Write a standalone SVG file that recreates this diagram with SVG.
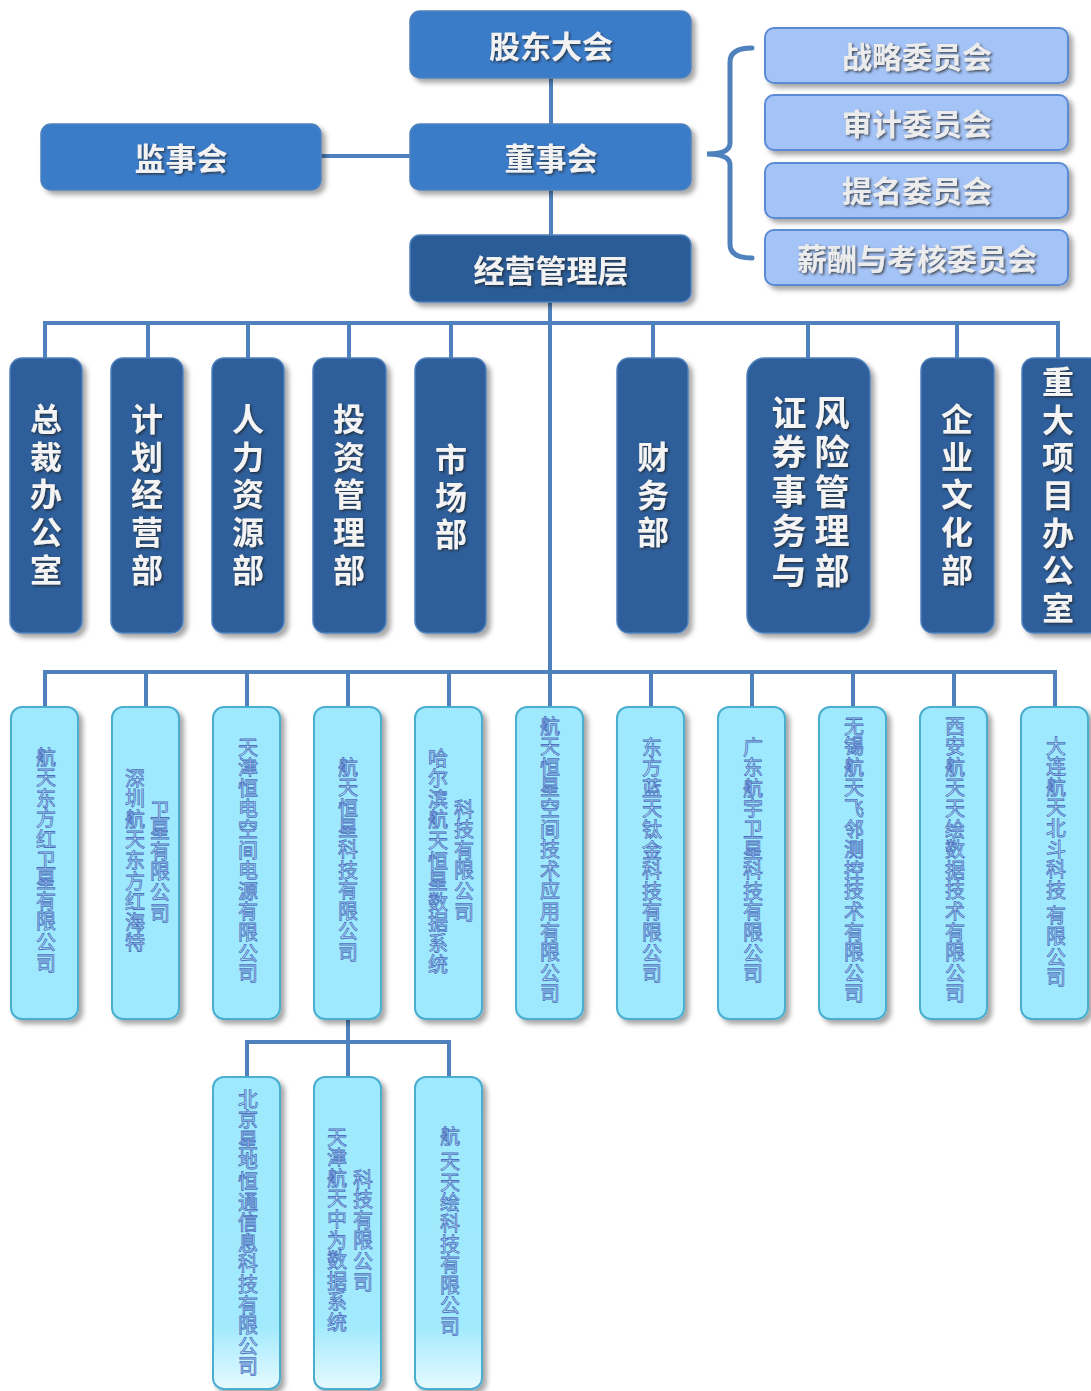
<svg xmlns="http://www.w3.org/2000/svg" width="1091" height="1391" viewBox="0 0 1091 1391">
<defs>
<filter id="sh" x="-20%" y="-20%" width="150%" height="150%">
<feDropShadow dx="4" dy="4" stdDeviation="2.5" flood-color="#000" flood-opacity="0.35"/>
</filter>
<filter id="ts" x="-20%" y="-20%" width="150%" height="150%">
<feDropShadow dx="1.5" dy="1.5" stdDeviation="0.8" flood-color="#222" flood-opacity="0.75"/>
</filter>
<linearGradient id="gb" x1="0" y1="0" x2="0" y2="1">
<stop offset="0" stop-color="#9ee9fd"/>
<stop offset="0.8" stop-color="#a2eafd"/>
<stop offset="1" stop-color="#e6faff"/>
</linearGradient>
</defs>
<style>
.top{fill:#3b7cc9;stroke:#4f81bd;stroke-width:1.5;filter:url(#sh)}
.mgr{fill:#2c5b97;stroke:#4f81bd;stroke-width:1.5;filter:url(#sh)}
.com{fill:#a4c3f6;stroke:#5b8bd6;stroke-width:2;filter:url(#sh)}
.dep{fill:#2d5e9b;stroke:#4f81bd;stroke-width:1.5;filter:url(#sh)}
.sub{fill:#9ee9fd;stroke:#4aaecf;stroke-width:2;filter:url(#sh)}
.subg{fill:url(#gb);stroke:#4aaecf;stroke-width:2;filter:url(#sh)}
.t1{font-family:"Noto Sans CJK SC","Noto Sans",sans-serif;font-size:31px;font-weight:600;fill:#f2f2f2;text-anchor:middle;dominant-baseline:central;filter:url(#ts)}
.t2{font-family:"Noto Sans CJK SC","Noto Sans",sans-serif;font-size:30px;font-weight:600;fill:#ececec;text-anchor:middle;dominant-baseline:central;filter:url(#ts)}
.tv{font-family:"Noto Sans CJK SC","Noto Sans",sans-serif;font-size:32px;font-weight:bold;fill:#f4f4f4;writing-mode:vertical-rl;letter-spacing:5.6px;filter:url(#ts)}
.tvb{font-family:"Noto Sans CJK SC","Noto Sans",sans-serif;font-size:35px;font-weight:bold;fill:#f4f4f4;writing-mode:vertical-rl;letter-spacing:4.5px;filter:url(#ts)}
.ts{font-family:"Noto Sans CJK SC","Noto Sans",sans-serif;font-size:20px;fill:#b9effe;stroke:#4d6fc0;stroke-width:0.8;writing-mode:vertical-rl;letter-spacing:0.6px}
.ln{stroke:#4f81bd;stroke-width:4;fill:none}
</style>
<g id="connectors">
<line class="ln" x1="551" y1="78" x2="551" y2="124"/>
<line class="ln" x1="321" y1="156" x2="411" y2="156"/>
<line class="ln" x1="551" y1="190" x2="551" y2="236"/>
<line class="ln" x1="550" y1="302" x2="550" y2="708"/>
<polyline class="ln" points="45,359 45,323 1058,323 1058,359"/>
<line class="ln" x1="148" y1="323" x2="148" y2="359"/>
<line class="ln" x1="248" y1="323" x2="248" y2="359"/>
<line class="ln" x1="349" y1="323" x2="349" y2="359"/>
<line class="ln" x1="451" y1="323" x2="451" y2="359"/>
<line class="ln" x1="653" y1="323" x2="653" y2="359"/>
<line class="ln" x1="808" y1="323" x2="808" y2="359"/>
<line class="ln" x1="957" y1="323" x2="957" y2="359"/>
<polyline class="ln" points="45,708 45,672 1055,672 1055,708"/>
<line class="ln" x1="146" y1="672" x2="146" y2="708"/>
<line class="ln" x1="247" y1="672" x2="247" y2="708"/>
<line class="ln" x1="348" y1="672" x2="348" y2="708"/>
<line class="ln" x1="449" y1="672" x2="449" y2="708"/>
<line class="ln" x1="651" y1="672" x2="651" y2="708"/>
<line class="ln" x1="752" y1="672" x2="752" y2="708"/>
<line class="ln" x1="853" y1="672" x2="853" y2="708"/>
<line class="ln" x1="954" y1="672" x2="954" y2="708"/>
<line class="ln" x1="348" y1="1019" x2="348" y2="1078"/>
<polyline class="ln" points="247,1078 247,1042 449,1042 449,1078"/>
<path d="M752,48 Q730,48 730,62 L730,143 Q730,154 707,154 Q730,154 730,165 L730,244 Q730,258 752,258" fill="none" stroke="#4f81bd" stroke-width="5" stroke-linecap="round"/>
</g>
<g id="n-gddh"><rect class="top" x="410" y="11" width="281" height="67" rx="10"/><text class="t1" x="551" y="44">股东大会</text></g>
<g id="n-jsh"><rect class="top" x="41" y="124" width="280" height="66" rx="10"/><text class="t1" x="181" y="156">监事会</text></g>
<g id="n-dsh"><rect class="top" x="410" y="124" width="281" height="66" rx="10"/><text class="t1" x="551" y="156">董事会</text></g>
<g id="n-jyglc"><rect class="mgr" x="410" y="235" width="281" height="67" rx="10"/><text class="t1" x="551" y="268">经营管理层</text></g>
<g id="n-zlwyh"><rect class="com" x="765" y="28" width="303" height="55" rx="9"/><text class="t2" x="917" y="55">战略委员会</text></g>
<g id="n-sjwyh"><rect class="com" x="765" y="95" width="303" height="55" rx="9"/><text class="t2" x="917" y="122">审计委员会</text></g>
<g id="n-tmwyh"><rect class="com" x="765" y="163" width="303" height="55" rx="9"/><text class="t2" x="917" y="189">提名委员会</text></g>
<g id="n-xcwyh"><rect class="com" x="765" y="230" width="303" height="55" rx="9"/><text class="t2" x="917" y="257">薪酬与考核委员会</text></g>

<g id="d1"><rect class="dep" x="10" y="358" width="72" height="275" rx="12"/><text class="tv" x="46" y="403">总裁办公室</text></g>
<g id="d2"><rect class="dep" x="111" y="358" width="72" height="275" rx="12"/><text class="tv" x="147" y="403">计划经营部</text></g>
<g id="d3"><rect class="dep" x="212" y="358" width="72" height="275" rx="12"/><text class="tv" x="248" y="403">人力资源部</text></g>
<g id="d4"><rect class="dep" x="313" y="358" width="73" height="275" rx="12"/><text class="tv" x="349" y="403">投资管理部</text></g>
<g id="d5"><rect class="dep" x="415" y="358" width="71" height="275" rx="12"/><text class="tv" x="451" y="443">市场部</text></g>
<g id="d6"><rect class="dep" x="617" y="358" width="71" height="275" rx="12"/><text class="tv" x="653" y="441">财务部</text></g>
<g id="d7"><rect class="dep" x="747" y="358" width="123" height="275" rx="18"/><text class="tvb" x="789" y="395">证券事务与</text><text class="tvb" x="832" y="395">风险管理部</text></g>
<g id="d8"><rect class="dep" x="921" y="358" width="73" height="275" rx="12"/><text class="tv" x="957" y="403">企业文化部</text></g>
<g id="d9"><rect class="dep" x="1022" y="358" width="80" height="275" rx="12"/><text class="tv" x="1058" y="366">重大项目办公室</text></g>

<g id="s1"><rect class="sub" x="11" y="707" width="67" height="312" rx="11"/><text class="ts" x="46" y="747">航天东方红卫星有限公司</text></g>
<g id="s2"><rect class="sub" x="112" y="707" width="67" height="312" rx="11"/><text class="ts" x="135" y="768">深圳航天东方红海特</text><text class="ts" x="160" y="800">卫星有限公司</text></g>
<g id="s3"><rect class="sub" x="213" y="707" width="67" height="312" rx="11"/><text class="ts" x="248" y="737">天津恒电空间电源有限公司</text></g>
<g id="s4"><rect class="sub" x="314" y="707" width="67" height="312" rx="11"/><text class="ts" x="348" y="757">航天恒星科技有限公司</text></g>
<g id="s5"><rect class="sub" x="415" y="707" width="67" height="312" rx="11"/><text class="ts" x="438" y="748">哈尔滨航天恒星数据系统</text><text class="ts" x="464" y="799">科技有限公司</text></g>
<g id="s6"><rect class="sub" x="516" y="707" width="67" height="312" rx="11"/><text class="ts" x="550" y="716">航天恒星空间技术应用有限公司</text></g>
<g id="s7"><rect class="sub" x="617" y="707" width="67" height="312" rx="11"/><text class="ts" x="652" y="737">东方蓝天钛金科技有限公司</text></g>
<g id="s8"><rect class="sub" x="718" y="707" width="67" height="312" rx="11"/><text class="ts" x="753" y="737">广东航宇卫星科技有限公司</text></g>
<g id="s9"><rect class="sub" x="819" y="707" width="67" height="312" rx="11"/><text class="ts" x="854" y="716">无锡航天飞邻测控技术有限公司</text></g>
<g id="s10"><rect class="sub" x="920" y="707" width="67" height="312" rx="11"/><text class="ts" x="955" y="716">西安航天天绘数据技术有限公司</text></g>
<g id="s11"><rect class="sub" x="1021" y="707" width="67" height="312" rx="11"/><text class="ts" x="1056" y="736">大连航天北斗科技 有限公司</text></g>

<g id="s12"><rect class="subg" x="213" y="1077" width="67" height="312" rx="11"/><text class="ts" x="248" y="1089">北京星地恒通信息科技有限公司</text></g>
<g id="s13"><rect class="subg" x="314" y="1077" width="67" height="312" rx="11"/><text class="ts" x="337" y="1127">天津航天中为数据系统</text><text class="ts" x="363" y="1169">科技有限公司</text></g>
<g id="s14"><rect class="subg" x="415" y="1077" width="67" height="312" rx="11"/><text class="ts" x="450" y="1126">航 天天绘科技有限公司</text></g>
</svg>
